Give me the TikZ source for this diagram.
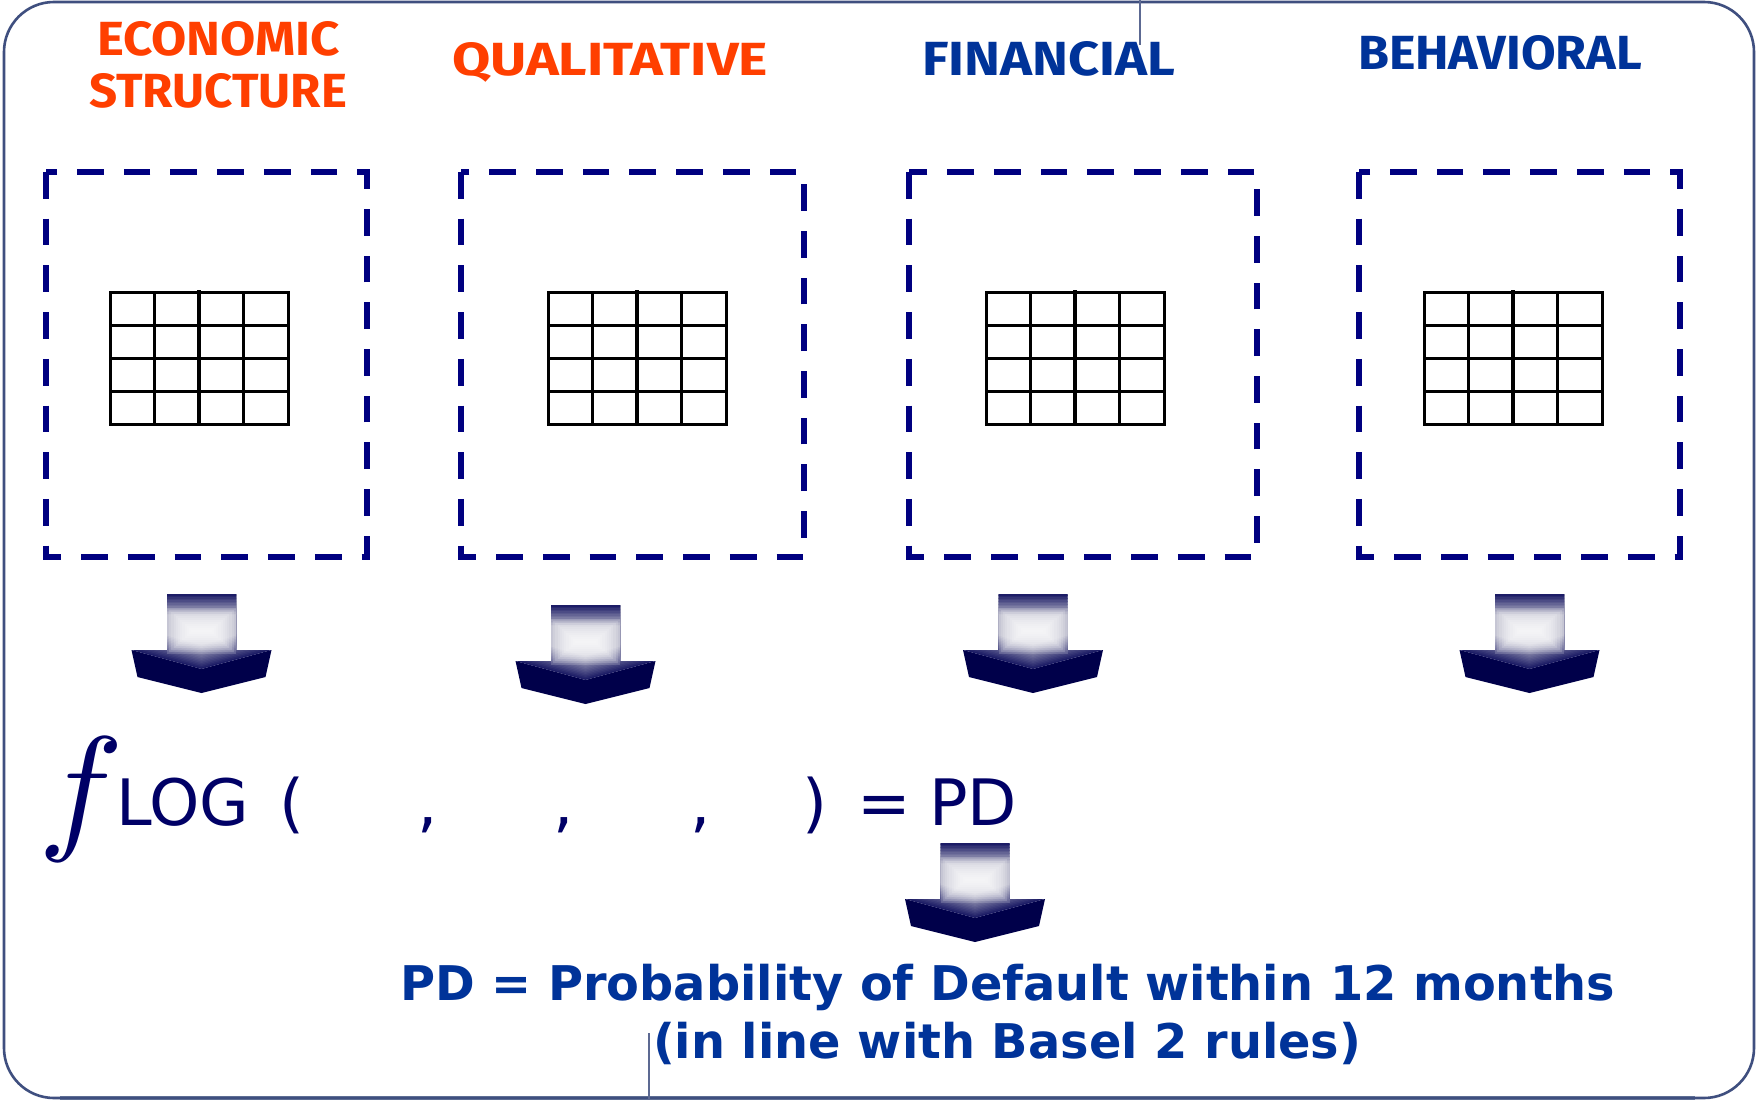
\documentclass[tikz,border=0pt]{standalone}
\usepackage{graphicx}
\usepackage{fontspec}
\setmainfont{DejaVu Sans}
\newfontfamily\titlefont{Fira Sans}[UprightFont=* Bold]
\definecolor{framecol}{HTML}{3F4F7F}
\definecolor{framelow}{HTML}{6F7FA0}
\definecolor{boxnavy}{HTML}{000080}
\definecolor{headnavy}{HTML}{00004A}
\definecolor{gradnavy}{HTML}{1C1C66}
\definecolor{gradgray}{HTML}{BCBCCC}
\definecolor{formula}{HTML}{000066}
\definecolor{orangetitle}{HTML}{FF3F00}
\definecolor{bluetitle}{HTML}{003399}
\tikzset{
  x=1pt,y=-1pt,
  lab/.style={inner sep=0pt,outer sep=0pt,anchor=base west},
  formulatext/.style={lab,text=formula,font=\fontsize{64}{64}\selectfont},
  dashbox/.style={draw=boxnavy,line width=6.4pt,dash pattern=on 26.7pt off 20pt},
  gridline/.style={draw=black,line width=3pt,line cap=rect},
  blockarrow/.pic={
    \fill[headnavy] (-70,56) -- (0,75) -- (70,56) -- (64,83) -- (0,99) -- (-64,83) -- cycle;
    \begin{scope}
      \clip (-34.5,0) -- (34.5,0) -- (34.5,56) -- (70,56) -- (0,75) -- (-70,56) -- (-34.5,56) -- cycle;
      \foreach \t [evaluate=\t as \m using {max(100-\t*100/24,0)}] in {0,1.5,...,25.5}
        \fill[gradnavy!\m!gradgray] (-80,-1) -- (80,-1) -- (80,{75-\t-80*19/70}) -- (0,{75-\t}) -- (-80,{75-\t-80*19/70}) -- cycle;
      \foreach \y [evaluate=\y as \m using {100*(1-\y/20)}] in {19.5,18,...,0}
        \fill[gradnavy!\m!gradgray] (-36,\y-0.2) rectangle (36,\y+1.6);
      \foreach \k in {0,1,...,11}
        \fill[white,fill opacity=0.16] ({-34.5+2.2*\k},{14+2*\k}) rectangle ({34.5-2.2*\k},{60-2*\k});
    \end{scope}
  },
  tablegrid/.pic={
    \foreach \c in {0,44.5,89,133.5,178.5} \draw[gridline] (\c,0) -- (\c,132.5);
    \draw[gridline,line width=3.6pt] (89,0) -- (89,132.5);
    \foreach \r in {0,33,66,99,132.5} \draw[gridline] (0,\r) -- (178.5,\r);
  }
}
\begin{document}
\begin{tikzpicture}
\useasboundingbox (0,0) rectangle (1757,1100);
\fill[white] (0,0) rectangle (1757,1100);
% frame and the two stray rules
\draw[framelow,line width=4pt] (60,1097.5) -- (1695,1097.5);
\draw[framecol,line width=2.6pt,rounded corners=50pt] (4,2) rectangle (1754,1098);
\draw[framecol!85!white,line width=2pt] (1140,0) -- (1140,45);
\draw[framecol!85!white,line width=2pt] (649,1033) -- (649,1100);
% titles
\node[lab,text=orangetitle] (t1a) at (97,55) {\resizebox{243pt}{34pt}{\titlefont ECONOMIC}};
\node[lab,text=orangetitle] (t1b) at (89,107) {\resizebox{258pt}{34pt}{\titlefont STRUCTURE}};
\node[lab,text=orangetitle] (t2) at (452,75) {\resizebox{316pt}{33pt}{\titlefont QUALITATIVE}};
\node[lab,text=bluetitle] (t3) at (922,75) {\resizebox{253pt}{34pt}{\titlefont FINANCIAL}};
\node[lab,text=bluetitle] (t4) at (1358,69) {\resizebox{284pt}{34pt}{\titlefont BEHAVIORAL}};
% dashed boxes
\draw[dashbox] (46,172) rectangle (367,557);
\draw[dashbox] (461,172) rectangle (804,557);
\draw[dashbox] (909,172) rectangle (1257,557);
\draw[dashbox] (1359,172) rectangle (1680,557);
% tables
\pic at (110,292) {tablegrid};
\pic at (548,292) {tablegrid};
\pic at (986,292) {tablegrid};
\pic at (1424,292) {tablegrid};
% block arrows
\pic at (201.5,594) {blockarrow};
\pic at (585.5,605) {blockarrow};
\pic at (1033,594) {blockarrow};
\pic at (1529.5,594) {blockarrow};
\pic at (975,843) {blockarrow};
% formula
\node[lab,text=formula] (ff) at (38,834) {\scalebox{14.3}[14]{$f$}};
\node[formulatext] (log) at (116,825) {LOG};
\node[formulatext] (lp) at (279,825) {(};
\node[formulatext] (c1) at (417,825) {,};
\node[formulatext] (c2) at (553,825) {,};
\node[formulatext] (c3) at (690,825) {,};
\node[formulatext] (rp) at (802,825) {)};
\node[formulatext] (eq) at (857,825) {=};
\node[formulatext] (pd) at (929,825) {PD};
% bottom text
\node[lab,text=bluetitle] (l1) at (400,1000) {\resizebox{1215pt}{!}{\bfseries PD = Probability of Default within 12 months}};
\node[lab,text=bluetitle] (l2) at (653,1058) {\resizebox{708pt}{!}{\bfseries (in line with Basel 2 rules)}};
\end{tikzpicture}
\end{document}
